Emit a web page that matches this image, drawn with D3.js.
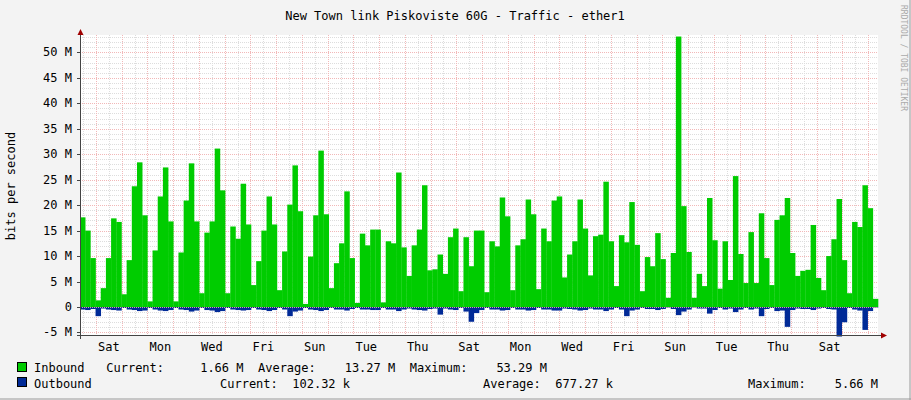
<!DOCTYPE html>
<html><head><meta charset="utf-8">
<script src="https://cdn.jsdelivr.net/npm/d3@7"></script>
<style>body{margin:0;background:#f3f3f3}svg{display:block}text{font-family:"DejaVu Sans Mono",monospace;white-space:pre}</style>
</head><body><div id="chart"></div>
<script>
// inbound per slot (M bits/s), 154 slots over 31 days
var inbound = [17.6,15.0,9.6,1.3,3.7,9.6,17.4,16.7,2.5,9.2,
  23.7,28.4,18.0,1.1,11.1,21.7,27.4,16.8,1.1,10.7,
  20.9,28.2,16.8,2.7,14.6,16.8,31.1,22.9,2.7,15.8,
  13.4,24.2,16.2,4.3,9.0,15.0,21.7,16.2,3.3,10.9,
  20.1,27.8,18.8,0.6,9.9,18.0,30.7,18.2,3.7,8.6,
  12.5,22.7,9.6,0.8,14.4,12.1,15.2,15.2,0.9,12.9,
  12.5,26.4,11.7,6.1,12.1,15.2,23.9,7.2,7.4,10.3,
  6.5,13.7,15.4,3.1,13.7,8.0,15.0,15.0,2.9,12.9,
  11.9,21.5,17.8,3.3,12.1,13.3,21.1,18.2,3.5,15.4,
  12.9,20.9,21.7,5.8,10.3,12.9,21.1,15.4,6.2,13.9,
  14.2,24.6,12.9,4.1,14.1,12.7,20.6,12.2,3.1,9.8,
  8.0,14.5,9.4,1.8,10.6,53.1,19.8,10.8,1.8,6.5,
  4.1,21.4,13.1,3.6,12.9,5.3,25.7,10.4,4.7,14.7,
  4.7,18.4,9.6,4.3,17.1,18.0,21.4,10.6,6.1,7.1,
  7.3,16.1,5.7,3.3,10.0,13.3,21.2,9.2,2.7,16.7,
  15.7,23.9,19.4,1.6];
var outbound = [0.5,0.6,0.4,1.8,0.3,0.5,0.6,0.7,0.2,0.5,
  0.6,0.8,0.7,0.2,0.5,0.7,0.8,0.6,0.2,0.5,
  0.6,0.9,0.7,0.2,0.6,0.7,1.0,0.8,0.2,0.5,
  0.6,0.7,0.6,0.2,0.5,0.6,0.8,0.6,0.2,0.5,
  1.8,0.9,0.7,0.2,0.5,0.6,0.8,0.6,0.2,0.5,
  0.5,0.7,0.4,0.2,0.5,0.5,0.6,0.6,0.2,0.5,
  0.5,0.8,0.5,0.3,0.5,0.6,0.7,0.4,0.3,1.5,
  0.3,0.5,0.6,0.2,0.9,2.9,1.2,0.6,0.2,0.5,
  0.5,0.7,0.6,0.2,0.5,0.5,0.7,0.6,0.2,0.5,
  0.5,0.7,0.7,0.3,0.4,0.5,0.7,0.6,0.3,0.5,
  0.5,0.8,0.5,0.2,0.5,1.8,0.7,0.5,0.2,0.4,
  0.4,0.6,0.4,0.1,0.4,1.6,0.9,0.5,0.1,0.3,
  0.3,1.3,0.6,0.2,0.5,0.3,1.0,0.5,0.2,0.5,
  0.3,1.8,0.4,0.2,0.8,0.7,3.9,0.6,0.3,0.4,
  0.4,0.6,0.3,0.2,0.4,0.5,5.8,3.0,0.2,0.5,
  0.7,4.5,0.8,0.1];
var dayLabels = ["Sat","Mon","Wed","Fri","Sun","Tue","Thu","Sat","Mon","Wed","Fri","Sun","Tue","Thu","Sat"];
var yTicks = [-5,0,5,10,15,20,25,30,35,40,45,50];

var W = 911, H = 400, x0 = 80, x1 = 878, days = 31, firstMidnight = 0.62;
var svg = d3.select("#chart").append("svg").attr("width", W).attr("height", H);
svg.append("rect").attr("width", W).attr("height", H).attr("fill", "#f3f3f3");
svg.append("line").attr("x1",W-1).attr("x2",W-1).attr("y1",0).attr("y2",H).attr("stroke","#999");
svg.append("line").attr("x1",0).attr("x2",W).attr("y1",H-1).attr("y2",H-1).attr("stroke","#999");

var x = d3.scaleLinear().domain([0, days]).range([x0, x1]);
var y = d3.scaleLinear().domain([-5.5, 53.4]).range([335, 35]);
svg.append("rect").attr("x", x0).attr("y", 35).attr("width", x1 - x0).attr("height", 300).attr("fill", "#fff");

// grid
var g = svg.append("g");
d3.range(-5, 54).forEach(function(v) {
  if (v % 5 === 0) return;
  g.append("line").attr("x1", x0).attr("x2", x1).attr("y1", Math.round(y(v)) + 0.5).attr("y2", Math.round(y(v)) + 0.5)
    .attr("stroke", "#ddd").attr("stroke-dasharray", "1,1");
});
d3.range(firstMidnight - 1 + 0.5, days, 1).forEach(function(t) {
  if (t < 0) return;
  g.append("line").attr("x1", Math.round(x(t)) + 0.5).attr("x2", Math.round(x(t)) + 0.5).attr("y1", 35).attr("y2", 335)
    .attr("stroke", "#ddd").attr("stroke-dasharray", "1,1");
});
yTicks.forEach(function(v) {
  g.append("line").attr("x1", x0).attr("x2", x1).attr("y1", Math.round(y(v)) + 0.5).attr("y2", Math.round(y(v)) + 0.5)
    .attr("stroke", "#f2b8b8").attr("stroke-dasharray", "1,1");
});
d3.range(firstMidnight, days, 1).forEach(function(t) {
  g.append("line").attr("x1", Math.round(x(t)) + 0.5).attr("x2", Math.round(x(t)) + 0.5).attr("y1", 35).attr("y2", 335)
    .attr("stroke", "#f2b8b8").attr("stroke-dasharray", "1,1");
});

// bars
var bw = days / inbound.length;
svg.append("g").selectAll("rect").data(inbound).enter().append("rect")
  .attr("x", function(d, i) { return x(i * bw); })
  .attr("width", function(d, i) { return x((i + 1) * bw) - x(i * bw) + 0.3; })
  .attr("y", function(d) { return y(d); })
  .attr("height", function(d) { return y(0) - y(d); })
  .attr("fill", "#00cc00");
svg.append("g").selectAll("rect").data(outbound).enter().append("rect")
  .attr("x", function(d, i) { return x(i * bw); })
  .attr("width", function(d, i) { return x((i + 1) * bw) - x(i * bw) + 0.3; })
  .attr("y", y(0))
  .attr("height", function(d) { return y(-d) - y(0); })
  .attr("fill", "#002a97");
svg.append("line").attr("x1", x0).attr("x2", x1).attr("y1", Math.round(y(0)) + 0.5).attr("y2", Math.round(y(0)) + 0.5)
  .attr("stroke", "#e0a0a0").attr("stroke-dasharray", "1,1");

// axes
svg.append("line").attr("x1", x0 + 0.5).attr("x2", x0 + 0.5).attr("y1", 31).attr("y2", 339).attr("stroke", "#444");
svg.append("line").attr("x1", x0 - 3).attr("x2", x1 + 4).attr("y1", 335.5).attr("y2", 335.5).attr("stroke", "#444");
svg.append("path").attr("d", "M" + (x0 - 2.5) + ",35 L" + (x0 + 3.5) + ",35 L" + (x0 + 0.5) + ",29 Z").attr("fill", "#a00000");
svg.append("path").attr("d", "M" + (x1 + 3) + ",332.5 L" + (x1 + 3) + ",338.5 L" + (x1 + 9) + ",335.5 Z").attr("fill", "#a00000");
yTicks.forEach(function(v) {
  svg.append("line").attr("x1", x0 - 3).attr("x2", x0).attr("y1", Math.round(y(v)) + 0.5).attr("y2", Math.round(y(v)) + 0.5).attr("stroke", "#444");
  svg.append("text").attr("x", 72).attr("y", y(v) + 4).attr("text-anchor", "end").attr("font-size", 12).attr("fill", "#000")
    .text(v === 0 ? "0" : v + " M");
});
dayLabels.forEach(function(lab, k) {
  svg.append("text").attr("x", x(firstMidnight + 0.5 + 2 * k)).attr("y", 351).attr("text-anchor", "middle")
    .attr("font-size", 12).text(lab);
});

svg.append("text").attr("x", 455).attr("y", 20).attr("text-anchor", "middle").attr("font-size", 12).text("New Town link Piskoviste 60G - Traffic - ether1");
svg.append("text").attr("transform", "translate(15,186) rotate(-90)").attr("text-anchor", "middle").attr("font-size", 12).text("bits per second");
svg.append("text").attr("transform", "translate(901,5) rotate(90)").attr("font-size", 8).attr("fill", "#aaa").text("RRDTOOL / TOBI OETIKER");

// legend
svg.append("rect").attr("x", 17.5).attr("y", 362.5).attr("width", 9).attr("height", 9).attr("fill", "#00cc00").attr("stroke", "#000");
svg.append("rect").attr("x", 17.5).attr("y", 377.5).attr("width", 9).attr("height", 9).attr("fill", "#002a97").attr("stroke", "#000");
svg.append("text").attr("x", 34).attr("y", 372).attr("font-size", 12).text("Inbound   Current:     1.66 M  Average:    13.27 M  Maximum:    53.29 M");
svg.append("text").attr("x", 34).attr("y", 388).attr("font-size", 12).text("Outbound");
svg.append("text").attr("x", 220).attr("y", 388).attr("font-size", 12).text("Current:  102.32 k");
svg.append("text").attr("x", 483).attr("y", 388).attr("font-size", 12).text("Average:  677.27 k");
svg.append("text").attr("x", 748).attr("y", 388).attr("font-size", 12).text("Maximum:    5.66 M");
</script></body></html>
